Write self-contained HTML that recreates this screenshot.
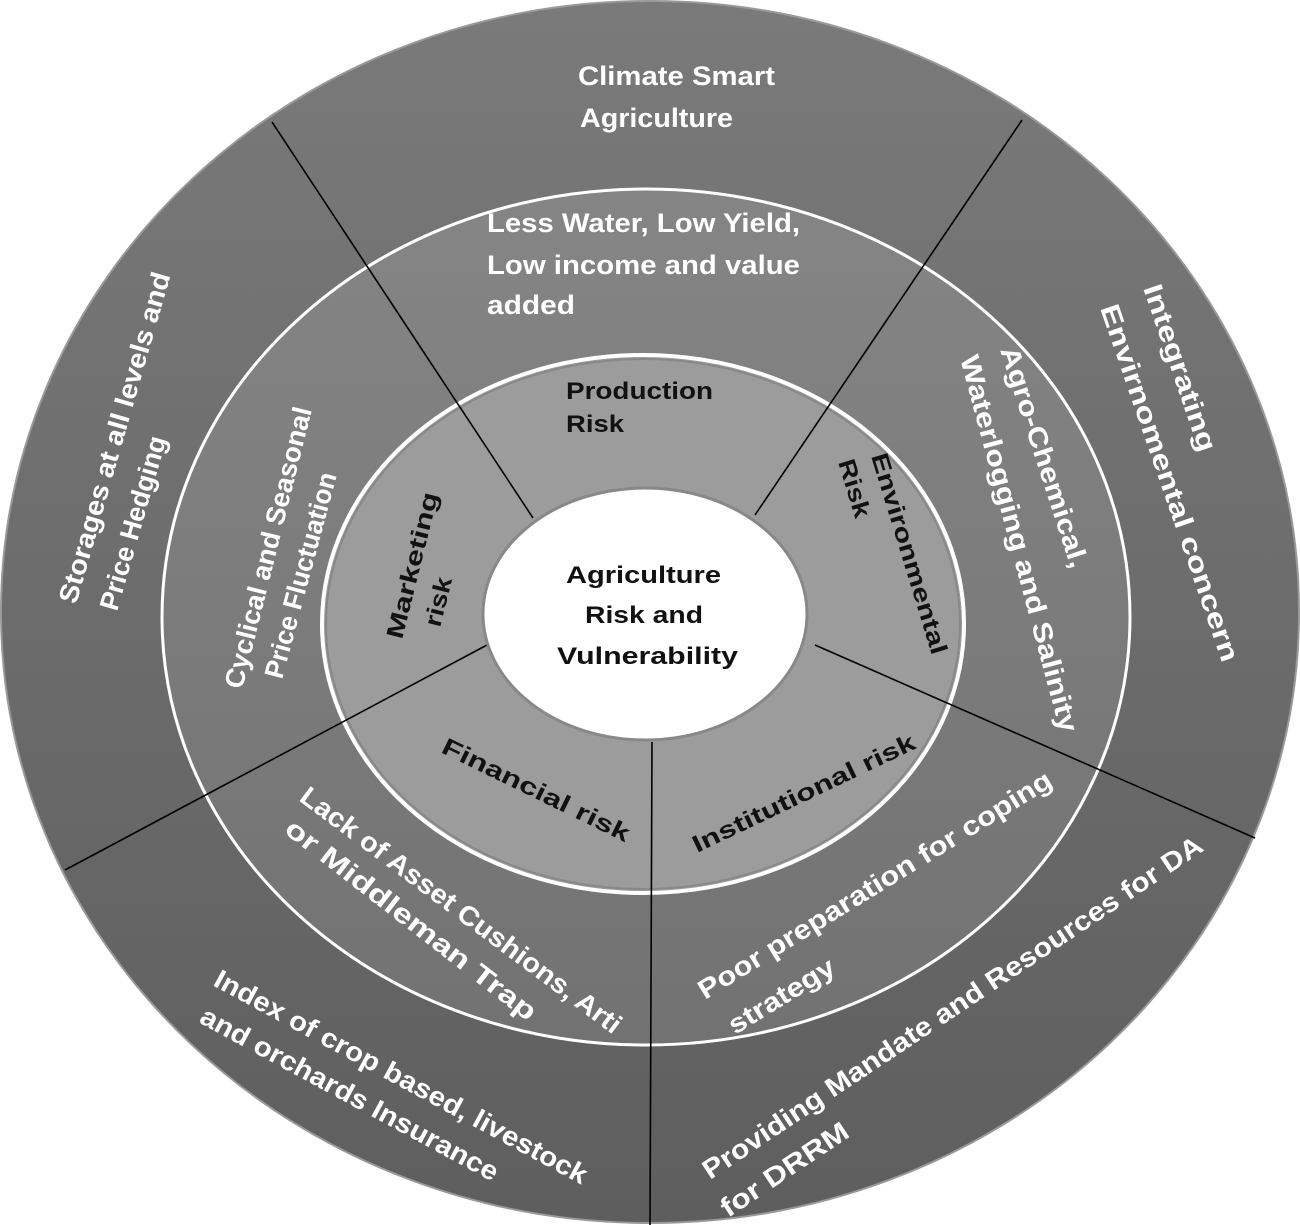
<!DOCTYPE html>
<html><head><meta charset="utf-8"><style>
html,body{margin:0;padding:0;background:#fff;}
svg{display:block;}
text{font-family:"Liberation Sans",sans-serif;font-weight:bold;}
.w{fill:#fff;font-size:27px;}
.b{fill:#111;font-size:24px;}
</style></head><body>
<svg width="1300" height="1225" viewBox="0 0 1300 1225" xmlns="http://www.w3.org/2000/svg">
<defs>
<linearGradient id="g1" x1="0" y1="0" x2="0" y2="1">
<stop offset="0" stop-color="#7a7a7a"/><stop offset="1" stop-color="#5e5e5e"/></linearGradient>
<linearGradient id="g2" x1="0" y1="0" x2="0" y2="1">
<stop offset="0" stop-color="#858585"/><stop offset="1" stop-color="#727272"/></linearGradient>
</defs>
<ellipse cx="650" cy="612" rx="649" ry="611" fill="url(#g1)" stroke="#999" stroke-width="2"/>
<ellipse cx="646" cy="617" rx="484" ry="428" fill="url(#g2)" stroke="#fff" stroke-width="3"/>
<ellipse cx="643" cy="624" rx="321" ry="269" fill="#9c9c9c" stroke="#fff" stroke-width="4"/>
<ellipse cx="643" cy="624" rx="317" ry="265" fill="none" stroke="#888" stroke-width="2"/>
<g stroke="#000" stroke-width="1.6">
<line x1="272" y1="122" x2="533" y2="518"/>
<line x1="1022" y1="120" x2="755" y2="515"/>
<line x1="1255" y1="838" x2="815" y2="645"/>
<line x1="652" y1="742" x2="650" y2="1225"/>
<line x1="65" y1="870" x2="487" y2="645"/>
</g>
<ellipse cx="645" cy="614" rx="162" ry="126" fill="#fff" stroke="#888" stroke-width="3"/>

<text class="w" x="578" y="85" textLength="197" lengthAdjust="spacingAndGlyphs">Climate Smart</text>
<text class="w" x="580" y="127" textLength="153" lengthAdjust="spacingAndGlyphs">Agriculture</text>
<text class="w" x="487" y="232" textLength="313" lengthAdjust="spacingAndGlyphs">Less Water, Low Yield,</text>
<text class="w" x="487" y="274" textLength="313" lengthAdjust="spacingAndGlyphs">Low income and value</text>
<text class="w" x="487" y="314" textLength="88" lengthAdjust="spacingAndGlyphs">added</text>
<text class="b" x="566" y="399" textLength="147" lengthAdjust="spacingAndGlyphs">Production</text>
<text class="b" x="566" y="432" textLength="58" lengthAdjust="spacingAndGlyphs">Risk</text>

<text class="b" font-size="26" x="566" y="583" textLength="155" lengthAdjust="spacingAndGlyphs">Agriculture</text>
<text class="b" font-size="26" x="585" y="623" textLength="118" lengthAdjust="spacingAndGlyphs">Risk and</text>
<text class="b" font-size="26" x="557" y="664" textLength="181" lengthAdjust="spacingAndGlyphs">Vulnerability</text>

<!-- left -->
<text class="w" transform="translate(76,605) rotate(-74)" textLength="343" lengthAdjust="spacingAndGlyphs">Storages at all levels and</text>
<text class="w" transform="translate(117,612) rotate(-74)" textLength="180" lengthAdjust="spacingAndGlyphs">Price Hedging</text>
<text class="w" transform="translate(242,690) rotate(-76)" textLength="289" lengthAdjust="spacingAndGlyphs">Cyclical and Seasonal</text>
<text class="w" transform="translate(282,680) rotate(-75)" textLength="212" lengthAdjust="spacingAndGlyphs">Price Fluctuation</text>
<text class="b" transform="translate(402,640) rotate(-76)" textLength="150" lengthAdjust="spacingAndGlyphs">Marketing</text>
<text class="b" transform="translate(440,628) rotate(-76)" textLength="50" lengthAdjust="spacingAndGlyphs">risk</text>

<!-- right -->
<text class="w" transform="translate(1143,288) rotate(71)" textLength="175" lengthAdjust="spacingAndGlyphs">Integrating</text>
<text class="w" transform="translate(1100,308) rotate(71)" textLength="376" lengthAdjust="spacingAndGlyphs">Envirnomental concern</text>
<text class="w" transform="translate(1000,350) rotate(72)" textLength="231" lengthAdjust="spacingAndGlyphs">Agro-Chemical,</text>
<text class="w" transform="translate(960,358) rotate(75)" textLength="389" lengthAdjust="spacingAndGlyphs">Waterlogging and Salinity</text>
<text class="b" transform="translate(871,456) rotate(73)" textLength="209" lengthAdjust="spacingAndGlyphs">Environmental</text>
<text class="b" transform="translate(838,462) rotate(73)" textLength="60" lengthAdjust="spacingAndGlyphs">Risk</text>

<!-- bottom -->
<text class="b" transform="translate(440,752) rotate(26)" textLength="206" lengthAdjust="spacingAndGlyphs">Financial risk</text>
<text class="b" transform="translate(697,853) rotate(-25.5)" textLength="244" lengthAdjust="spacingAndGlyphs">Institutional risk</text>
<text class="w" transform="translate(298,800) rotate(36.7)" textLength="393" lengthAdjust="spacingAndGlyphs">Lack of Asset Cushions, Arti</text>
<text class="w" transform="translate(283,832) rotate(37.8)" textLength="310" lengthAdjust="spacingAndGlyphs">or Middleman Trap</text>
<text class="w" transform="translate(705,1000) rotate(-31.6)" textLength="410" lengthAdjust="spacingAndGlyphs">Poor preparation  for coping</text>
<text class="w" transform="translate(735,1035) rotate(-31.6)" textLength="120" lengthAdjust="spacingAndGlyphs">strategy</text>
<text class="w" transform="translate(212,985) rotate(28.4)" textLength="420" lengthAdjust="spacingAndGlyphs">Index of crop based, livestock</text>
<text class="w" transform="translate(198,1022) rotate(28.5)" textLength="335" lengthAdjust="spacingAndGlyphs">and orchards Insurance</text>
<text class="w" transform="translate(710,1180) rotate(-33.7)" textLength="595" lengthAdjust="spacingAndGlyphs">Providing Mandate and Resources for DA</text>
<text class="w" transform="translate(728,1218) rotate(-33.7)" textLength="148" lengthAdjust="spacingAndGlyphs">for DRRM</text>
</svg>
</body></html>
